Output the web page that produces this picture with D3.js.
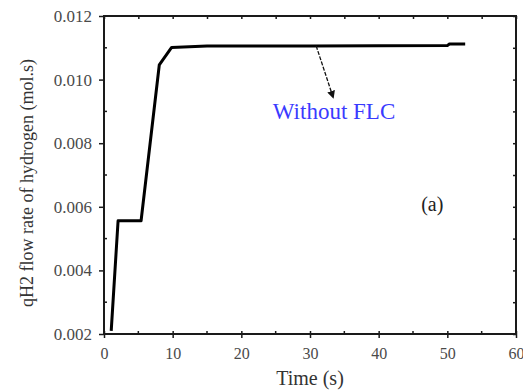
<!DOCTYPE html>
<html>
<head>
<meta charset="utf-8">
<script src="https://cdn.jsdelivr.net/npm/d3@7"></script>
<style>
  html, body { margin: 0; padding: 0; background: #fff; }
  svg { display: block; }
</style>
</head>
<body>
<svg id="chart" width="523" height="392"></svg>
<script>
// Hydrogen flow rate response over time (without FLC)
const timeS = [1.05, 2.05, 5.4, 8.05, 9.85, 15, 30, 50, 50.3, 52.6];
const flowH2 = [0.0021, 0.00556, 0.00556, 0.01046, 0.01101, 0.01106, 0.01106, 0.01107, 0.01112, 0.01112];

const xMajorTicks = [0, 10, 20, 30, 40, 50, 60];
const xMinorTicks = [5, 15, 25, 35, 45, 55];
const yMajorTicks = [0.002, 0.004, 0.006, 0.008, 0.010, 0.012];
const yMinorTicks = [0.003, 0.005, 0.007, 0.009, 0.011];

const seriesLabel = "Without FLC";
const arrowFrom = [30.9, 0.01106];
const arrowTo = [33.4, 0.00942];
const panelTag = "(a)";

const serif = '"Liberation Serif", "Times New Roman", serif';
const svg = d3.select("#chart");
const m = { left: 104, right: 516, top: 16, bottom: 334 };

const x = d3.scaleLinear().domain([0, 60]).range([m.left, m.right]);
const y = d3.scaleLinear().domain([0.002, 0.012]).range([m.bottom, m.top]);

const axisColor = "#1a1a1a";
const labelColor = "#4a4a4a";

// Bottom axis: major ticks crossing the axis line, minor ticks inside
const gx = svg.append("g").attr("transform", `translate(0,${m.bottom})`);
gx.call(d3.axisBottom(x).tickValues(xMajorTicks).tickSize(4).tickPadding(10).tickFormat(d3.format("d")));
gx.selectAll(".tick line").attr("y1", -3).attr("stroke", axisColor).attr("stroke-width", 1.5);
gx.selectAll(".tick text").attr("font-size", 16).attr("fill", labelColor).style("font-family", serif);
gx.select(".domain").remove();
gx.selectAll(".minor").data(xMinorTicks).enter().append("line")
  .attr("x1", d => x(d)).attr("x2", d => x(d)).attr("y1", 0).attr("y2", -3)
  .attr("stroke", axisColor).attr("stroke-width", 1.5);

// Left axis
const gy = svg.append("g").attr("transform", `translate(${m.left},0)`);
gy.call(d3.axisLeft(y).tickValues(yMajorTicks).tickSize(5).tickPadding(7).tickFormat(d3.format(".3f")));
gy.selectAll(".tick line").attr("stroke", axisColor).attr("stroke-width", 1.5);
gy.selectAll(".tick text").attr("font-size", 17).attr("fill", labelColor).style("font-family", serif);
gy.select(".domain").remove();
gy.selectAll(".minor").data(yMinorTicks).enter().append("line")
  .attr("x1", 0).attr("x2", 3).attr("y1", d => y(d)).attr("y2", d => y(d))
  .attr("stroke", axisColor).attr("stroke-width", 1.5);

// Top mirror axis: inward ticks
const gt = svg.append("g").attr("transform", `translate(0,${m.top})`);
gt.call(d3.axisTop(x).tickValues(xMajorTicks.concat(xMinorTicks)).tickSize(-3).tickFormat(""));
gt.selectAll(".tick line").attr("stroke", axisColor).attr("stroke-width", 1.5);
gt.select(".domain").remove();

// Right mirror axis: inward ticks
const gr = svg.append("g").attr("transform", `translate(${m.right},0)`);
gr.call(d3.axisRight(y).tickValues(yMajorTicks.concat(yMinorTicks)).tickSize(-3).tickFormat(""));
gr.selectAll(".tick line").attr("stroke", axisColor).attr("stroke-width", 1.5);
gr.select(".domain").remove();

// Frame
svg.append("rect")
  .attr("x", m.left).attr("y", m.top)
  .attr("width", m.right - m.left).attr("height", m.bottom - m.top)
  .attr("fill", "none").attr("stroke", axisColor).attr("stroke-width", 2);

// Flow rate curve
const line = d3.line().x((d, i) => x(timeS[i])).y(d => y(d));
svg.append("path")
  .datum(flowH2)
  .attr("d", line)
  .attr("fill", "none")
  .attr("stroke", "#000")
  .attr("stroke-width", 3)
  .attr("stroke-linejoin", "round");

// Annotation arrow
svg.append("defs").append("marker")
  .attr("id", "arrowhead")
  .attr("viewBox", "0 0 10 10")
  .attr("refX", 9).attr("refY", 5)
  .attr("markerWidth", 8).attr("markerHeight", 8)
  .attr("markerUnits", "userSpaceOnUse")
  .attr("orient", "auto")
  .append("path").attr("d", "M0,0 L10,5 L0,10 Z").attr("fill", "#111");

svg.append("line")
  .attr("x1", x(arrowFrom[0])).attr("y1", y(arrowFrom[1]))
  .attr("x2", x(arrowTo[0])).attr("y2", y(arrowTo[1]))
  .attr("stroke", "#111").attr("stroke-width", 1.3)
  .attr("stroke-dasharray", "4,1.5")
  .attr("marker-end", "url(#arrowhead)");

svg.append("text")
  .attr("x", x(33.5)).attr("y", y(0.00876))
  .attr("text-anchor", "middle")
  .attr("font-size", 23)
  .attr("fill", "#3a3aff")
  .style("font-family", serif)
  .text(seriesLabel);

svg.append("text")
  .attr("x", x(47.8)).attr("y", y(0.00587))
  .attr("text-anchor", "middle")
  .attr("font-size", 20)
  .attr("fill", "#222")
  .style("font-family", serif)
  .text(panelTag);

// Axis titles
svg.append("text")
  .attr("x", x(30)).attr("y", 385)
  .attr("text-anchor", "middle")
  .attr("font-size", 20)
  .attr("fill", "#333")
  .style("font-family", serif)
  .text("Time (s)");

svg.append("text")
  .attr("transform", `translate(33,${(m.top + m.bottom) / 2 + 8}) rotate(-90)`)
  .attr("text-anchor", "middle")
  .attr("font-size", 18)
  .attr("fill", "#333")
  .style("font-family", serif)
  .text("qH2 flow rate of hydrogen (mol.s)");
</script>
</body>
</html>
